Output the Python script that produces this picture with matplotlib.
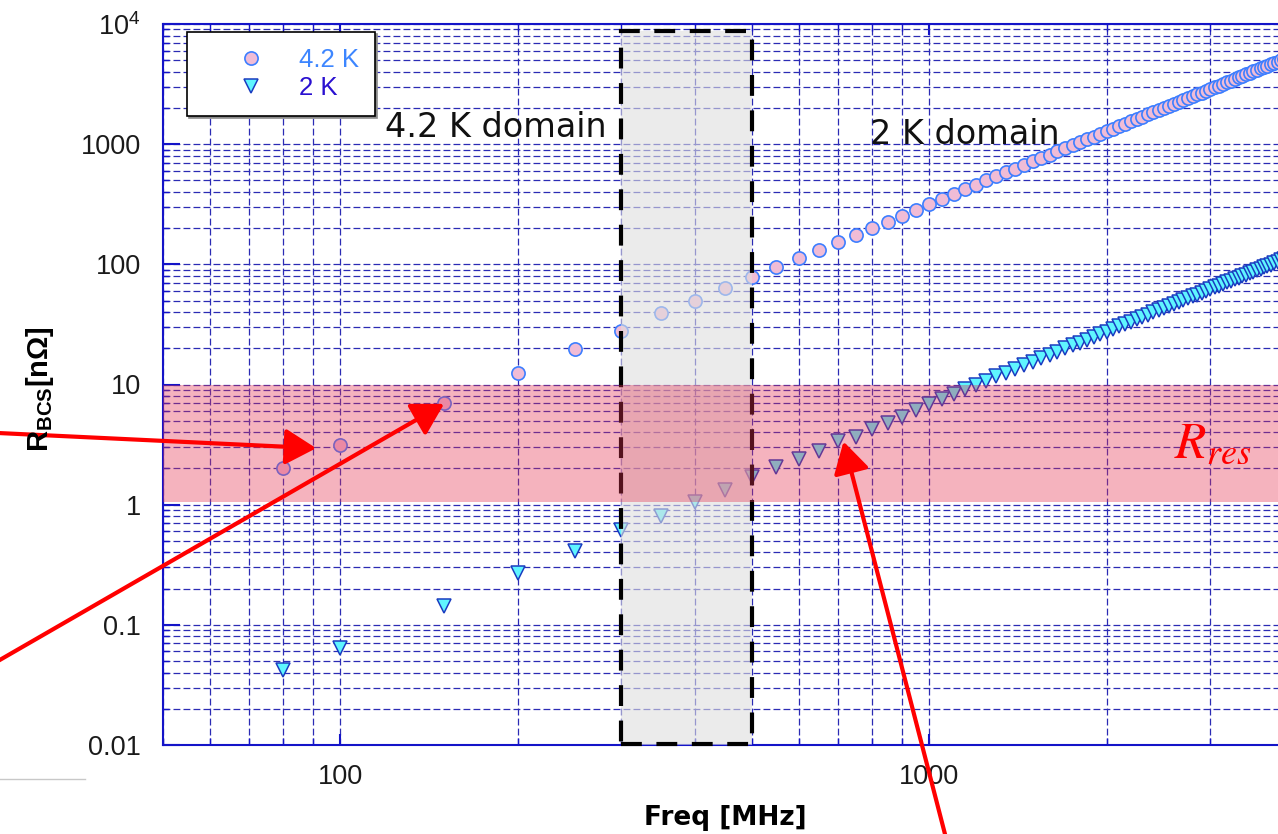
import matplotlib
matplotlib.use("Agg")
import numpy as np
import matplotlib.pyplot as plt
from matplotlib.patches import Rectangle
from matplotlib.lines import Line2D
from matplotlib.ticker import LogLocator, NullFormatter

plt.rcParams["font.family"] = ["Liberation Sans", "DejaVu Sans"]
plt.rcParams["mathtext.fontset"] = "custom"
plt.rcParams["mathtext.rm"] = "Liberation Sans"
plt.rcParams["mathtext.bf"] = "Liberation Sans:bold"
plt.rcParams["mathtext.it"] = "Liberation Sans:italic"

W, H = 1278, 834

# ---- data -----------------------------------------------------------------
FREQ_MHZ = [80, 100, 150, 200, 250, 300, 350, 400, 450, 500, 550, 600, 650,
            700, 750, 800, 850, 900, 950, 1000, 1050, 1100, 1150, 1200, 1250,
            1300, 1350, 1400, 1450, 1500, 1550, 1600, 1650, 1700, 1750, 1800,
            1850, 1900, 1950, 2000, 2050, 2100, 2150, 2200, 2250, 2300, 2350,
            2400, 2450, 2500, 2550, 2600, 2650, 2700, 2750, 2800, 2850, 2900,
            2950, 3000, 3050, 3100, 3150, 3200, 3250, 3300, 3350, 3400, 3450,
            3500, 3550, 3600, 3650, 3700, 3750, 3800, 3850, 3900, 3950, 4000]

R_42K = [2.02, 3.12, 7.04, 12.5, 19.6, 27.8, 39.0, 49.5, 63.5, 78, 94.5, 113,
         132, 154, 177, 201, 227, 254, 285, 320, 353, 387, 423, 461, 500, 541,
         583, 627, 673, 720, 769, 819, 871, 925, 980, 1037, 1095, 1155, 1217,
         1280, 1345, 1411, 1479, 1549, 1620, 1693, 1767, 1843, 1921, 2000,
         2081, 2163, 2247, 2333, 2420, 2509, 2599, 2691, 2785, 2880, 2977,
         3075, 3175, 3277, 3380, 3485, 3591, 3699, 3809, 3920, 4033, 4147,
         4263, 4381, 4500, 4621, 4743, 4867, 4993, 5120]

R_2K = [0.042, 0.0647, 0.144, 0.27, 0.408, 0.61, 0.81, 1.06, 1.33, 1.71, 2.07,
        2.42, 2.82, 3.41, 3.69, 4.3, 4.82, 5.4, 6.1, 6.9, 7.61, 8.35, 9.13,
        9.94, 10.78, 11.66, 12.58, 13.52, 14.51, 15.53, 16.58, 17.66, 18.79,
        19.94, 21.13, 22.36, 23.62, 24.91, 26.24, 27.6, 29.0, 30.43, 31.9,
        33.4, 34.93, 36.5, 38.1, 39.74, 41.42, 43.13, 44.87, 46.64, 48.46,
        50.3, 52.18, 54.1, 56.05, 58.03, 60.05, 62.1, 64.19, 66.31, 68.47,
        70.66, 72.88, 75.14, 77.43, 79.76, 82.13, 84.53, 86.96, 89.42, 91.93,
        94.46, 97.03, 99.64, 102.3, 104.9, 107.7, 110.4]

X_TICKS = [100, 1000]
X_TICK_LABELS = ["100", "1000"]
Y_TICKS = [0.01, 0.1, 1, 10, 100, 1000, 10000]
Y_TICK_LABELS = ["0.01", "0.1", "1", "10", "100", "1000", r"$\mathregular{10^4}$"]

RES_BAND = (1.05, 10.0)              # R_res range [nOhm]
DOMAIN_F = (300, 500)                # transition region [MHz]
DOMAIN_TOP = 8700
ARROW_TIPS = [(91, 2.95), (150, 6.9), (715, 3.35)]      # data coords
ARROW_TAILS = [(-2, 433), (-2, 661), (946, 838)]        # image pixels

# ---- figure ----------------------------------------------------------------
fig = plt.figure(figsize=(W / 100, H / 100), dpi=100)
ax = fig.add_axes([163 / W, (H - 745) / H, (1284 - 163) / W, (745 - 24) / H])
ax.set_xscale("log")
ax.set_yscale("log")
ax.set_xlim(50, 4000)
ax.set_ylim(0.01, 1e4)

ax.plot(FREQ_MHZ, R_42K, "o", ls="none", ms=9.5, mfc="#f0bcd6", mec="#3d7eff",
        mew=1.2, label="4.2 K", zorder=2)
ax.plot(FREQ_MHZ, R_2K, "v", ls="none", ms=10, mfc="#5ff5ff", mec="#1a3cc0",
        mew=1.1, label="2 K", zorder=2.1)

# transition box
f0, f1 = DOMAIN_F
ax.add_patch(Rectangle((f0, 0.01), f1 - f0, DOMAIN_TOP - 0.01, facecolor="#dedede",
                       alpha=0.6, edgecolor="none", zorder=3))
ax.add_patch(Rectangle((f0, 0.0101), f1 - f0, DOMAIN_TOP - 0.0101, fill=False,
                       edgecolor="black", lw=3, linestyle=(0, (5, 3.5)), zorder=3.2,
                       clip_on=False))

# R_res band
ax.axhspan(*RES_BAND, color=(228 / 255, 50 / 255, 80 / 255), alpha=0.37, lw=0, zorder=4)

# grid / ticks
ax.xaxis.set_minor_locator(LogLocator(base=10, subs=np.arange(2, 10), numticks=100))
ax.yaxis.set_minor_locator(LogLocator(base=10, subs=np.arange(2, 10), numticks=100))
ax.xaxis.set_minor_formatter(NullFormatter())
ax.yaxis.set_minor_formatter(NullFormatter())
ax.set_xticks(X_TICKS, X_TICK_LABELS)
ax.set_yticks(Y_TICKS, Y_TICK_LABELS)
ax.set_axisbelow(True)
ax.grid(True, which="both", color="#2b2bb4", lw=0.9, linestyle=(0, (5.5, 2.5)))

for s in ax.spines.values():
    s.set_color("#1414c8")
    s.set_linewidth(1.5)
ax.spines["right"].set_visible(False)

ax.tick_params(axis="both", which="both", direction="in", top=True, right=False,
               colors="#1414c8", labelcolor="#1a1a1a", labelsize=19.5)
ax.tick_params(axis="y", which="major", length=12, width=1.5, pad=16)
ax.tick_params(axis="y", which="minor", length=4, width=1)
ax.tick_params(axis="x", which="major", length=8, width=1.5, pad=14)
ax.tick_params(axis="x", which="minor", length=5, width=1)

# legend
leg = ax.legend(loc="upper left", bbox_to_anchor=((187 - 163) / 1121, (745 - 32) / 721),
                borderaxespad=0, fancybox=False, edgecolor="black", framealpha=1,
                borderpad=0.64, handlelength=3.7, handletextpad=0.0, labelspacing=0.12,
                fontsize=18.5, labelcolor=["#3d86ff", "#2a10d0"],
                shadow={"ox": 1.5, "oy": -1.5, "color": "0.55", "alpha": 1})
leg.get_frame().set_linewidth(1.2)
leg.set_zorder(5)

# annotations
ax.text(119, 1143, "4.2 K domain", fontfamily="DejaVu Sans", fontsize=24,
        color="#111111", va="baseline", ha="left", zorder=6)
ax.text(794, 1000, "2 K domain", fontfamily="DejaVu Sans", fontsize=24,
        color="#111111", va="baseline", ha="left", zorder=6)
ax.text(2600, 2.46, r"$R_{res}$", math_fontfamily="stix", fontsize=37,
        color="#ff0000", va="baseline", ha="left", zorder=6)

for (ft, rt), (tx, ty) in zip(ARROW_TIPS, ARROW_TAILS):
    ax.annotate("", xy=(ft, rt), xycoords="data", xytext=(tx, H - ty),
                textcoords="figure pixels", annotation_clip=False, zorder=7,
                arrowprops=dict(arrowstyle="-|>,head_length=0.95,head_width=0.55",
                                color="#ff0000", lw=3, shrinkA=0, shrinkB=0,
                                mutation_scale=20))

fig.text(40 / W, 1 - 389 / H, r"$\mathbf{R_{BCS}[n\Omega]}$", rotation=90,
         fontsize=21, ha="center", va="center")
fig.text(725 / W, (H - 825) / H, "Freq [MHz]", fontfamily="DejaVu Sans",
         fontweight="bold", fontsize=19, ha="center", va="baseline")
fig.add_artist(Line2D([0, 85 / W], [1 - 779 / H] * 2, transform=fig.transFigure,
                      color="#c8c8c8", lw=1))

fig.savefig("out.png", dpi=100)
